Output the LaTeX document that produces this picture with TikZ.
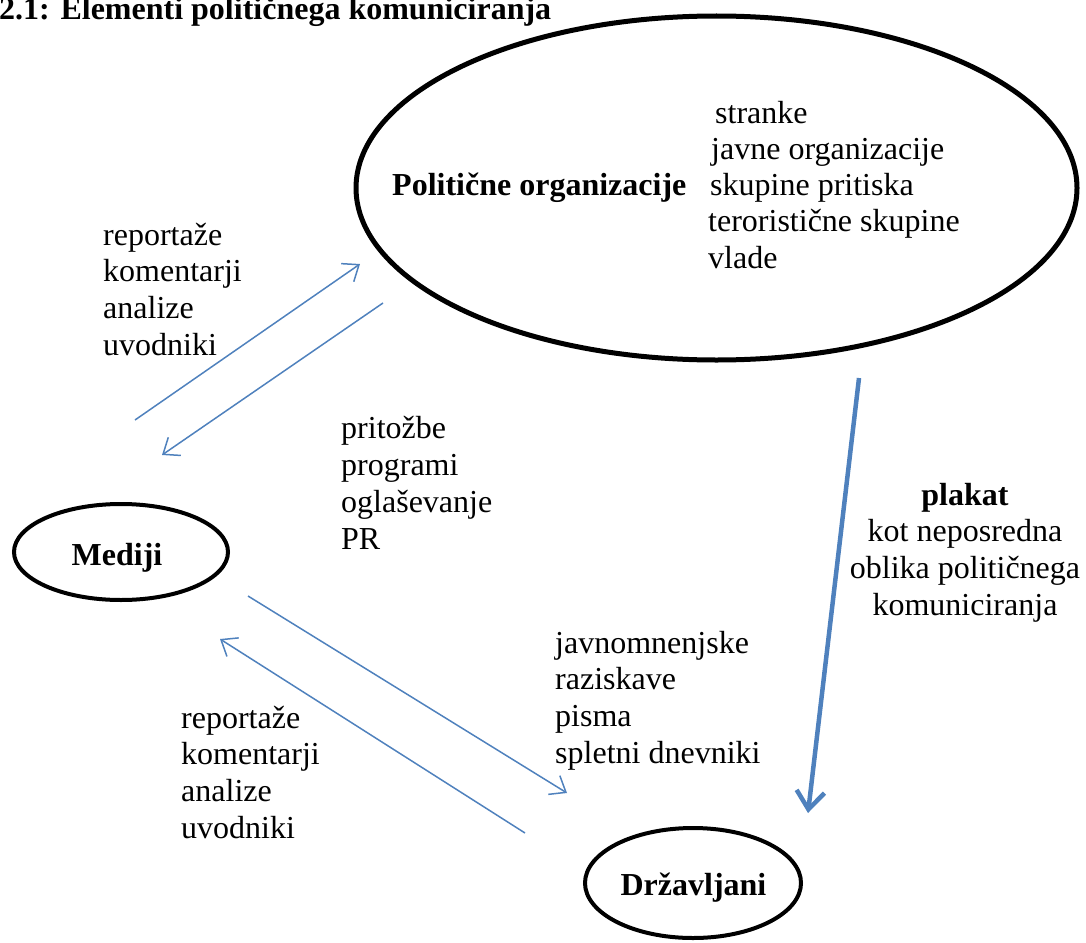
\documentclass[tikz,border=0pt]{standalone}
\usepackage{fontspec}
\setmainfont{Liberation Serif}
\usetikzlibrary{arrows.meta,shapes.geometric}
\definecolor{arrblue}{HTML}{4F81BD}
\begin{document}
\begin{tikzpicture}[x=1pt,y=-1pt,
  txt/.style={font=\fontsize{32}{36.7}\selectfont, inner sep=0pt, anchor=base west},
  btxt/.style={font=\fontsize{32}{36.7}\selectfont\bfseries, inner sep=0pt, anchor=base west},
  ctxt/.style={font=\fontsize{32}{36.7}\selectfont, inner sep=0pt, anchor=base},
  ell/.style={draw, ellipse, line width=4pt, inner sep=0pt},
  thinarrow/.style={draw=arrblue, line width=1.5pt, -{Straight Barb[length=14pt,width=22pt]}},
  thickarrow/.style={draw=arrblue, line width=4.5pt, -{Straight Barb[length=18pt,width=28pt]}}]
\useasboundingbox (0,0) rectangle (1086,942);

% title
\node[btxt] (title) at (-1,20) {2.1: Elementi političnega komuniciranja};

% ellipses
\node[ell, line width=5pt, minimum width=721pt, minimum height=344pt] (po) at (716.5,188) {};
\node[ell, minimum width=214pt, minimum height=96pt] (med) at (121,552) {};
\node[ell, minimum width=216pt, minimum height=110pt] (drz) at (693,883) {};

% ellipse labels
\node[btxt] (pot) at (392,195.6) {Politične organizacije};
\node[btxt, anchor=base] (medt) at (117,565) {Mediji};
\node[btxt, anchor=base] (drzt) at (693.5,895) {Državljani};

% list inside political organisations
\node[txt] (l1) at (715,123) {stranke};
\node[txt] (l2) at (711,159.3) {javne organizacije};
\node[txt] (l3) at (710,195.6) {skupine pritiska};
\node[txt] (l4) at (708,231.9) {teroristične skupine};
\node[txt] (l5) at (708,268.2) {vlade};

% left group 1
\node[txt] (r1) at (103,245) {reportaže};
\node[txt] (r2) at (103,281.7) {komentarji};
\node[txt] (r3) at (103,318.4) {analize};
\node[txt] (r4) at (103,355.1) {uvodniki};

% pritozbe group
\node[txt] (p1) at (341,438) {pritožbe};
\node[txt] (p2) at (341,475.3) {programi};
\node[txt] (p3) at (341,512.6) {oglaševanje};
\node[txt] (p4) at (341,549.9) {PR};

% javnomnenjske group
\node[txt] (j1) at (555,653) {javnomnenjske};
\node[txt] (j2) at (555,689.7) {raziskave};
\node[txt] (j3) at (555,726.4) {pisma};
\node[txt] (j4) at (555,763.1) {spletni dnevniki};

% left group 2
\node[txt] (s1) at (181,728) {reportaže};
\node[txt] (s2) at (181,764.7) {komentarji};
\node[txt] (s3) at (181,801.4) {analize};
\node[txt] (s4) at (181,838.1) {uvodniki};

% plakat group
\node[ctxt, font=\fontsize{32}{36.7}\selectfont\bfseries] (k1) at (965,505) {plakat};
\node[ctxt] (k2) at (965,541.7) {kot neposredna};
\node[ctxt] (k3) at (965,578.4) {oblika političnega};
\node[ctxt] (k4) at (965,615.1) {komuniciranja};

% arrow end points
\coordinate (a1s) at (135,420);
\coordinate (a1e) at (360,264);
\coordinate (a2s) at (383,303);
\coordinate (a2e) at (162,455);
\coordinate (a3s) at (248,596);
\coordinate (a3e) at (567,793);
\coordinate (a4s) at (525,833);
\coordinate (a4e) at (220,639);
\coordinate (a5s) at (859,378);
\coordinate (a5e) at (808,813);

\draw[thinarrow] (a1s) -- (a1e);
\draw[thinarrow] (a2s) -- (a2e);
\draw[thinarrow] (a3s) -- (a3e);
\draw[thinarrow] (a4s) -- (a4e);
\draw[thickarrow] (a5s) -- (a5e);
\end{tikzpicture}
\end{document}
